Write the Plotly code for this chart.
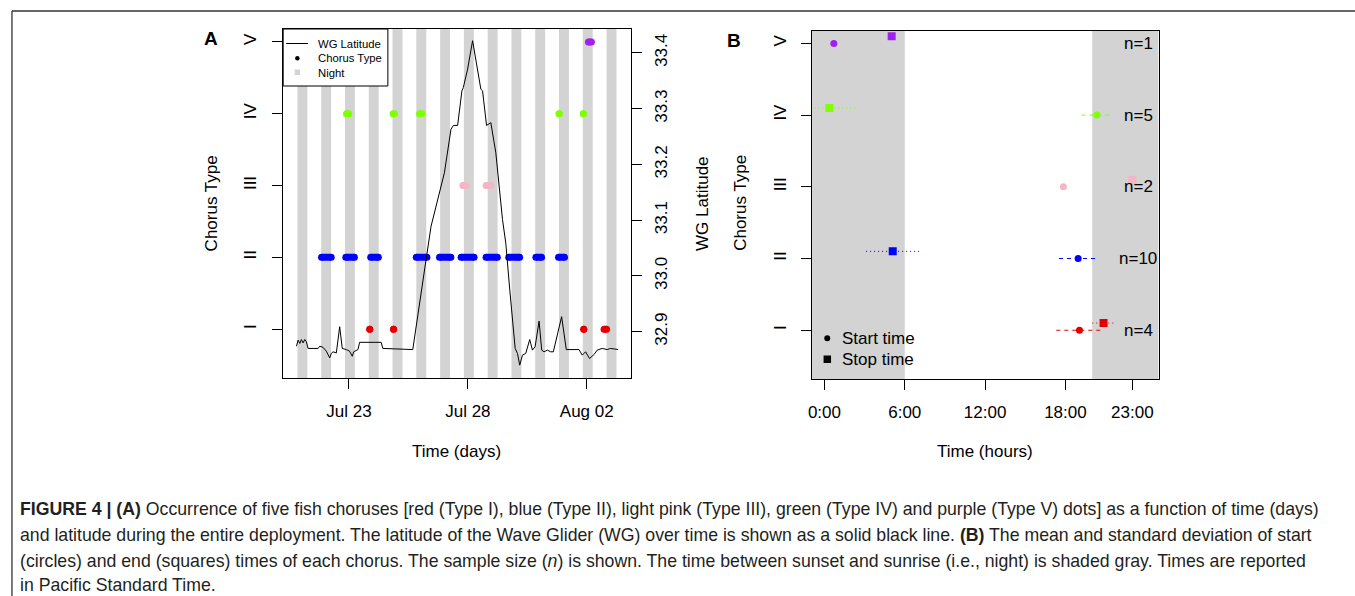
import plotly.graph_objects as go
from datetime import datetime, timedelta

W, H = 1355, 596
FONT = "Liberation Sans, Arial, Helvetica, sans-serif"

# ---------------- data ----------------
type_levels = [1, 2, 3, 4, 5]
type_labels = ["I", "II", "III", "IV", "V"]
type_colors = ["#E50000", "#0000FF", "#F2B6C6", "#7FFF00", "#A020F0"]

# Wave Glider latitude track (panel A)
lat_time = [
    "2016-07-20 19:00", "2016-07-20 20:40", "2016-07-20 22:24", "2016-07-21 00:00",
    "2016-07-21 01:42", "2016-07-21 03:24", "2016-07-21 05:00", "2016-07-21 06:45",
    "2016-07-21 16:48", "2016-07-21 18:30", "2016-07-21 21:50", "2016-07-22 01:10",
    "2016-07-22 04:35", "2016-07-22 06:10", "2016-07-22 07:55", "2016-07-22 11:15",
    "2016-07-22 14:38", "2016-07-22 17:15", "2016-07-22 21:17", "2016-07-23 00:42",
    "2016-07-23 03:20", "2016-07-23 04:44", "2016-07-23 09:03", "2016-07-23 10:46",
    "2016-07-24 08:30", "2016-07-24 10:13", "2016-07-25 16:24", "2016-07-25 19:44",
    "2016-07-26 00:45", "2016-07-26 05:47", "2016-07-26 10:50", "2016-07-26 15:50",
    "2016-07-27 00:19", "2016-07-27 06:56", "2016-07-27 09:22", "2016-07-27 13:40",
    "2016-07-27 18:00", "2016-07-27 19:25", "2016-07-27 23:45", "2016-07-28 04:47",
    "2016-07-28 09:49", "2016-07-28 13:08", "2016-07-28 14:50", "2016-07-28 18:52",
    "2016-07-28 23:11", "2016-07-29 04:13", "2016-07-29 10:58", "2016-07-29 14:17",
    "2016-07-29 18:18", "2016-07-29 23:45", "2016-07-30 02:04", "2016-07-30 04:22",
    "2016-07-30 07:05", "2016-07-30 10:25", "2016-07-30 14:27", "2016-07-30 17:10",
    "2016-07-30 19:52", "2016-07-30 23:54", "2016-07-31 02:31", "2016-07-31 04:55",
    "2016-07-31 08:15", "2016-07-31 11:34", "2016-07-31 14:17", "2016-07-31 18:19",
    "2016-07-31 22:38", "2016-08-01 03:21", "2016-08-01 16:09", "2016-08-01 19:28",
    "2016-08-01 22:48", "2016-08-02 02:49", "2016-08-02 07:15", "2016-08-02 10:34",
    "2016-08-02 15:36", "2016-08-02 20:38", "2016-08-03 00:00", "2016-08-03 07:42",
]
lat_value = [
    32.874, 32.885, 32.879, 32.886, 32.880, 32.886, 32.882, 32.870,
    32.870, 32.874, 32.872, 32.865, 32.853, 32.861, 32.864, 32.862,
    32.909, 32.870, 32.868, 32.865, 32.856, 32.864, 32.868, 32.881,
    32.881, 32.870, 32.868, 32.909, 32.975, 33.029, 33.089, 33.125,
    33.185, 33.263, 33.270, 33.270, 33.332, 33.338, 33.371, 33.422,
    33.371, 33.335, 33.332, 33.270, 33.275, 33.221, 33.101, 33.059,
    32.975, 32.870, 32.861, 32.840, 32.858, 32.861, 32.886, 32.867,
    32.873, 32.919, 32.867, 32.864, 32.867, 32.864, 32.864, 32.897,
    32.927, 32.868, 32.868, 32.858, 32.864, 32.852, 32.859, 32.867,
    32.870, 32.868, 32.870, 32.868,
]

# chorus events (start, end) per type, panel A
events_I = [("2016-07-23 21:00", "2016-07-23 21:00"), ("2016-07-24 21:00", "2016-07-24 21:00"),
            ("2016-08-01 21:00", "2016-08-01 21:00"), ("2016-08-02 17:30", "2016-08-02 20:00")]
events_II = [("2016-07-21 20:18", "2016-07-22 06:06"), ("2016-07-22 20:48", "2016-07-23 05:30"),
             ("2016-07-23 21:56", "2016-07-24 05:41"), ("2016-07-25 19:55", "2016-07-26 06:41"),
             ("2016-07-26 19:22", "2016-07-27 06:50"), ("2016-07-27 17:12", "2016-07-28 06:17"),
             ("2016-07-28 18:22", "2016-07-29 05:44"), ("2016-07-29 17:12", "2016-07-30 04:16"),
             ("2016-07-30 20:40", "2016-07-31 02:24"), ("2016-07-31 19:30", "2016-08-01 01:34")]
events_III = [("2016-07-27 19:00", "2016-07-27 22:00"), ("2016-07-28 18:24", "2016-07-28 23:06")]
events_IV = [("2016-07-22 21:30", "2016-07-22 23:48"), ("2016-07-24 20:30", "2016-07-24 21:48"),
             ("2016-07-25 23:12", "2016-07-26 01:40"), ("2016-07-31 20:06", "2016-07-31 20:06"),
             ("2016-08-01 20:36", "2016-08-01 20:36")]
events_V = [("2016-08-02 01:42", "2016-08-02 04:42")]
events_by_type = [events_I, events_II, events_III, events_IV, events_V]

# nights (sunset -> sunrise)
night_dates = ["2016-07-%02d" % d for d in range(20, 32)] + ["2016-08-01", "2016-08-02"]
sunset_hour = 20
sunrise_hour = 6

# panel A axes
xA_range = ["2016-07-20 05:36", "2016-08-03 20:48"]
xA_ticks = ["2016-07-23", "2016-07-28", "2016-08-02"]
xA_ticktext = ["Jul 23", "Jul 28", "Aug 02"]
chorus_range = [0.32, 5.18]
lat_range = [32.817, 33.443]
lat_ticks = [32.9, 33.0, 33.1, 33.2, 33.3, 33.4]
lat_ticktext = ["32.9", "33.0", "33.1", "33.2", "33.3", "33.4"]

# panel B: mean and sd (hours) of start and stop times per type
start_mean = [19.05, 18.95, 17.85, 20.35, 0.70]
start_sd = [1.73, 1.43, 0.0, 1.14, 0.0]
stop_mean = [20.85, 5.10, 23.00, 0.36, 5.02]
stop_sd = [0.84, 1.99, 0.0, 2.03, 0.0]
n_samples = [4, 10, 2, 5, 1]
stop_offset = 0.1
xB_range = [-0.96, 24.96]
xB_ticks = [0, 6, 12, 18, 23]
xB_ticktext = ["0:00", "6:00", "12:00", "18:00", "23:00"]
n_label_hour = 23.45

legendA_labels = ["WG Latitude", "Chorus Type", "Night"]
legendB_labels = ["Start time", "Stop time"]

# ---------------- figure ----------------
fig = go.Figure()

def px_x(p):
    return p / W

def px_y(p):
    return 1 - p / H

# panel A chorus events
for lvl, col, evs in zip(type_levels, type_colors, events_by_type):
    xs, ys = [], []
    for s, e in evs:
        xs += [s, e, None]
        ys += [lvl, lvl, None]
    fig.add_trace(go.Scatter(x=xs, y=ys, mode="lines+markers", xaxis="x", yaxis="y",
                             line=dict(color=col, width=7), marker=dict(color=col, size=7),
                             showlegend=False, hoverinfo="skip"))

# latitude line (on right axis)
fig.add_trace(go.Scatter(x=lat_time, y=lat_value, mode="lines", xaxis="x", yaxis="y2",
                         line=dict(color="black", width=1), name="WG Latitude", showlegend=False))

# panel B error bars and points
for i, lvl in enumerate(type_levels):
    col = type_colors[i]
    if start_sd[i] > 0:
        fig.add_trace(go.Scatter(x=[start_mean[i] - start_sd[i], start_mean[i] + start_sd[i]],
                                 y=[lvl, lvl], mode="lines", xaxis="x2", yaxis="y3",
                                 line=dict(color=col, width=1, dash="4px,4px"),
                                 showlegend=False, hoverinfo="skip"))
    if stop_sd[i] > 0:
        fig.add_trace(go.Scatter(x=[stop_mean[i] - stop_sd[i], stop_mean[i] + stop_sd[i]],
                                 y=[lvl + stop_offset] * 2, mode="lines", xaxis="x2", yaxis="y3",
                                 line=dict(color=col, width=1, dash="1px,3px"),
                                 showlegend=False, hoverinfo="skip"))
fig.add_trace(go.Scatter(x=start_mean, y=type_levels, mode="markers", xaxis="x2", yaxis="y3",
                         marker=dict(color=type_colors, size=7, symbol="circle"),
                         showlegend=False))
fig.add_trace(go.Scatter(x=stop_mean, y=[v + stop_offset for v in type_levels], mode="markers",
                         xaxis="x2", yaxis="y3",
                         marker=dict(color=type_colors, size=8, symbol="square"),
                         showlegend=False))

# shapes: nights panel A
shapes = []
for d in night_dates:
    day = datetime.strptime(d, "%Y-%m-%d")
    x0 = day + timedelta(hours=sunset_hour)
    x1 = day + timedelta(days=1, hours=sunrise_hour)
    shapes.append(dict(type="rect", xref="x", yref="y domain", x0=x0, x1=x1, y0=0, y1=1,
                       fillcolor="#D3D3D3", line=dict(width=0), layer="below"))
# nights panel B
shapes.append(dict(type="rect", xref="x2", yref="y3 domain", x0=xB_range[0], x1=sunrise_hour,
                   y0=0, y1=1, fillcolor="#D3D3D3", line=dict(width=0), layer="below"))
shapes.append(dict(type="rect", xref="x2", yref="y3 domain", x0=sunset_hour, x1=xB_range[1],
                   y0=0, y1=1, fillcolor="#D3D3D3", line=dict(width=0), layer="below"))
# outer frame lines
shapes.append(dict(type="line", xref="paper", yref="paper", x0=px_x(8), x1=1, y0=px_y(11), y1=px_y(11),
                   line=dict(color="#333", width=1.3)))
shapes.append(dict(type="line", xref="paper", yref="paper", x0=px_x(8), x1=px_x(8), y0=px_y(11), y1=0,
                   line=dict(color="#333", width=1.3)))

# legend A (key box drawn as layout decoration)
shapes.append(dict(type="rect", xref="paper", yref="paper", x0=px_x(280), x1=px_x(385),
                   y0=px_y(86), y1=px_y(29), fillcolor="white", line=dict(color="black", width=1),
                   layer="above"))
shapes.append(dict(type="line", xref="paper", yref="paper", x0=px_x(283), x1=px_x(305),
                   y0=px_y(43.5), y1=px_y(43.5), line=dict(color="black", width=1)))
shapes.append(dict(type="circle", xref="paper", yref="paper", x0=px_x(292), x1=px_x(296.5),
                   y0=px_y(60.5), y1=px_y(56), fillcolor="black", line=dict(width=0)))
shapes.append(dict(type="rect", xref="paper", yref="paper", x0=px_x(291.5), x1=px_x(297),
                   y0=px_y(75), y1=px_y(69.5), fillcolor="#D3D3D3", line=dict(width=0)))
# legend B keys
shapes.append(dict(type="circle", xref="paper", yref="paper", x0=px_x(822.7), x1=px_x(828.7),
                   y0=px_y(341.3), y1=px_y(335.3), fillcolor="black", line=dict(width=0)))
shapes.append(dict(type="rect", xref="paper", yref="paper", x0=px_x(822), x1=px_x(829.5),
                   y0=px_y(363), y1=px_y(355.5), fillcolor="black", line=dict(width=0)))

axfont = dict(family=FONT, size=17, color="black")
common = dict(showgrid=False, zeroline=False, showline=True, linecolor="black", linewidth=1,
              ticks="outside", ticklen=10, tickcolor="black", tickwidth=1, tickfont=axfont)

annotations = []
def ann(text, x, y, size=17, angle=0, bold=False, xanchor="center", family=FONT, color="black"):
    annotations.append(dict(text=("<b>%s</b>" % text) if bold else text, x=px_x(x), y=px_y(y),
                            xref="paper", yref="paper", showarrow=False, textangle=angle,
                            xanchor=xanchor, yanchor="middle",
                            font=dict(family=family, size=size, color=color)))

ann("A", 208, 39, size=19, bold=True)
ann("B", 732, 40, size=19, bold=True)
ann("Chorus Type", 208, 203, angle=-90)
ann("WG Latitude", 700, 203, angle=-90)
ann("Chorus Type", 738, 203, angle=-90)
ann("Time (days)", 454, 451)
ann("Time (hours)", 984, 451)

for lab, yy in zip(legendA_labels, [44, 58.3, 72.7]):
    ann(lab, 313, yy, size=11.3, xanchor="left")
for lab, yy in zip(legendB_labels, [338.3, 359.3]):
    ann(lab, 838, yy, size=17, xanchor="left")

for lvl, n in zip(type_levels, n_samples):
    annotations.append(dict(text="n=%d" % n, x=n_label_hour, y=lvl, xref="x2", yref="y3",
                            showarrow=False, xanchor="center", yanchor="middle", font=axfont))

CAP = "Liberation Sans, Arial, sans-serif"
cap_lines = [
    "<b>FIGURE 4 | (A)</b> Occurrence of five fish choruses [red (Type I), blue (Type II), light pink (Type III), green (Type IV) and purple (Type V) dots] as a function of time (days)",
    "and latitude during the entire deployment. The latitude of the Wave Glider (WG) over time is shown as a solid black line. <b>(B)</b> The mean and standard deviation of start",
    "(circles) and end (squares) times of each chorus. The sample size (<i>n</i>) is shown. The time between sunset and sunrise (i.e., night) is shaded gray. Times are reported",
    "in Pacific Standard Time.",
]
cap_y = [509, 535, 561, 585]
for t, yy in zip(cap_lines, cap_y):
    ann(t, 14, yy, size=17.7, xanchor="left", family=CAP, color="#231F20")

fig.update_layout(
    width=W, height=H, margin=dict(l=0, r=0, t=0, b=0),
    paper_bgcolor="white", plot_bgcolor="white",
    font=dict(family=FONT, size=17, color="black"),
    xaxis=dict(domain=[px_x(280), px_x(629)], anchor="y", type="date", range=xA_range,
               tickvals=xA_ticks, ticktext=xA_ticktext, mirror=True, ticklabelstandoff=8, **common),
    yaxis=dict(domain=[px_y(378), px_y(29)], anchor="x", range=chorus_range,
               tickvals=type_levels, ticktext=type_labels, tickangle=-90, mirror=True,
               ticklabelstandoff=9, **common),
    yaxis2=dict(overlaying="y", anchor="x", side="right", range=lat_range,
                tickvals=lat_ticks, ticktext=lat_ticktext, tickangle=-90, ticklabelstandoff=4, **common),
    xaxis2=dict(domain=[px_x(810), px_x(1158)], anchor="y3", range=xB_range,
                tickvals=xB_ticks, ticktext=xB_ticktext, mirror=True, ticklabelstandoff=8, **common),
    yaxis3=dict(domain=[px_y(379), px_y(30.5)], anchor="x2", range=chorus_range,
                tickvals=type_levels, ticktext=type_labels, tickangle=-90, mirror=True,
                ticklabelstandoff=8, **common),
    shapes=shapes, annotations=annotations, showlegend=False,
)

fig.write_html("out.html", config={"displayModeBar": False},
               post_script="document.body.style.margin='0';document.body.style.overflow='hidden';")
